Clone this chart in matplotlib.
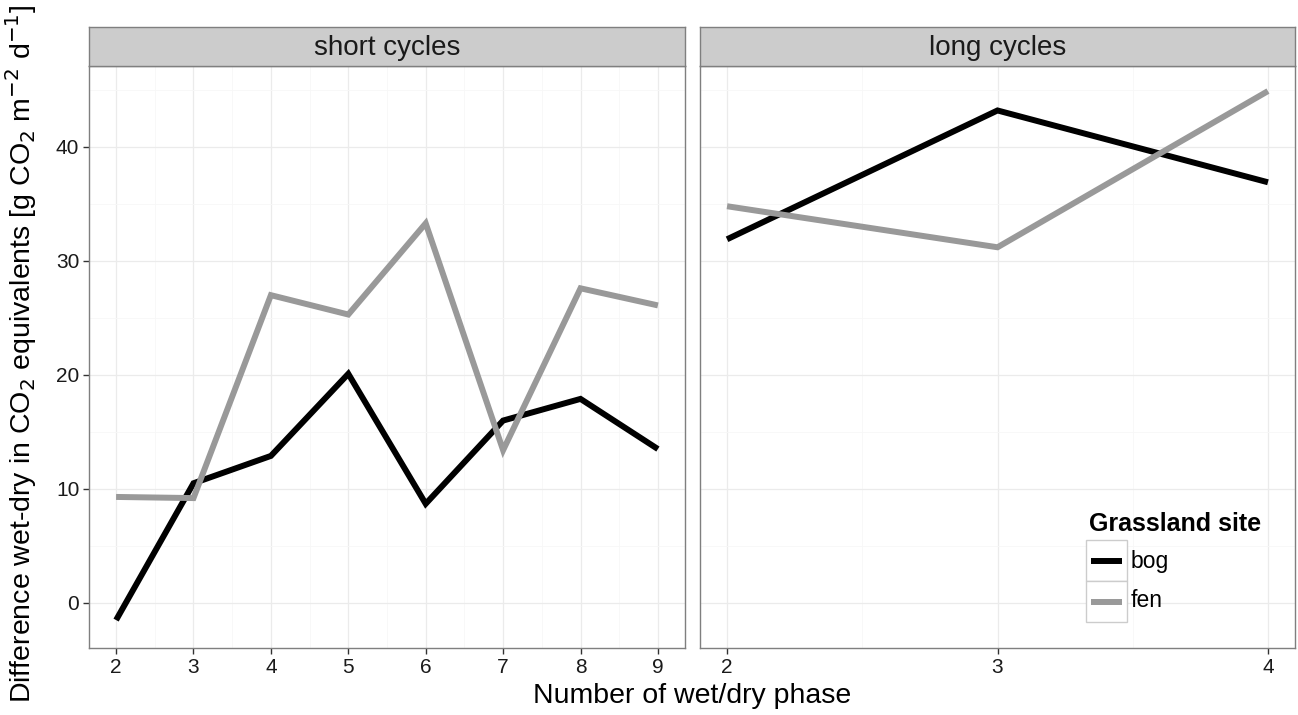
import matplotlib
matplotlib.use("Agg")
import matplotlib.pyplot as plt
from matplotlib.patches import Rectangle
from matplotlib.lines import Line2D

plt.rcParams['font.family'] = ['Liberation Sans', 'DejaVu Sans']

# Data
panels = ["short cycles", "long cycles"]
short_x = [2, 3, 4, 5, 6, 7, 8, 9]
short_bog = [-1.5, 10.5, 12.9, 20.1, 8.7, 16.0, 17.9, 13.5]
short_fen = [9.3, 9.2, 27.0, 25.3, 33.3, 13.4, 27.6, 26.1]
long_x = [2, 3, 4]
long_bog = [31.9, 43.2, 36.9]
long_fen = [34.8, 31.2, 44.9]
sites = ["bog", "fen"]
site_colors = {"bog": "#000000", "fen": "#999999"}
y_ticks = [0, 10, 20, 30, 40]

W, H = 1298, 715
fig = plt.figure(figsize=(W / 100, H / 100), dpi=100)

def px_axes(x0, x1, y0, y1):
    return fig.add_axes([x0 / W, 1 - y1 / H, (x1 - x0) / W, (y1 - y0) / H])

ylim = (-3.95, 47.1)
ax_s = px_axes(89, 685, 66, 648)
ax_l = px_axes(700, 1295, 66, 648)

series = [
    (ax_s, short_x, {"bog": short_bog, "fen": short_fen}, panels[0]),
    (ax_l, long_x, {"bog": long_bog, "fen": long_fen}, panels[1]),
]

for ax, xs, vals, title in series:
    span = xs[-1] - xs[0]
    ax.set_xlim(xs[0] - 0.05 * span, xs[-1] + 0.05 * span)
    ax.set_ylim(*ylim)
    # grid: minor then major
    for xv in xs:
        ax.axvline(xv, color="#ebebeb", lw=0.9, zorder=0)
    for xv in [x + 0.5 for x in xs[:-1]]:
        ax.axvline(xv, color="#f7f7f7", lw=0.6, zorder=0)
    for yv in y_ticks:
        ax.axhline(yv, color="#ebebeb", lw=0.9, zorder=0)
    for yv in [-5, 5, 15, 25, 35, 45]:
        ax.axhline(yv, color="#f7f7f7", lw=0.6, zorder=0)
    for s in sites:
        ax.plot(xs, vals[s], color=site_colors[s], lw=4.3, solid_joinstyle="miter",
                solid_capstyle="butt", zorder=3)
    ax.set_xticks(xs)
    ax.set_yticks(y_ticks)
    for sp in ax.spines.values():
        sp.set_color("#7f7f7f")
        sp.set_linewidth(1.0)
    ax.tick_params(axis="both", length=4, width=1, color="#333333", labelsize=15,
                   labelcolor="#1a1a1a", pad=3)
    # strip header
    strip = fig.add_axes([ax.get_position().x0, 1 - 66 / H, ax.get_position().width, 39 / H])
    strip.set_xticks([]); strip.set_yticks([])
    strip.set_facecolor("#cccccc")
    for sp in strip.spines.values():
        sp.set_color("#7f7f7f")
        sp.set_linewidth(1.0)
    strip.text(0.5, 0.47, title, ha="center", va="center", fontsize=20, color="#1a1a1a",
               transform=strip.transAxes)

ax_l.set_yticklabels([])
ax_l.tick_params(axis="y", length=0)

fig.text((89 + 1295) / 2 / W, 1 - 696 / H, "Number of wet/dry phase", ha="center", va="center",
         fontsize=20.5)
fig.text(21 / W, 1 - 354 / H,
         r"Difference wet-dry in CO$_2$ equivalents [g CO$_2$ m$^{-2}$ d$^{-1}$]",
         rotation=90, ha="center", va="center", fontsize=20.5)

# legend drawn inside the long-cycles panel
lax = ax_l
tr = lax.transAxes
def ax_x(px):
    return (px - 700) / 595
def ax_y(py):
    return (648 - py) / 582

lax.text(ax_x(1089), ax_y(531), "Grassland site", fontsize=18, fontweight="bold",
         ha="left", va="baseline", transform=tr, zorder=6)
for i, s in enumerate(sites):
    top = 540 + i * 41
    bot = top + 41
    lax.add_patch(Rectangle((ax_x(1086), ax_y(bot)), ax_x(1127) - ax_x(1086), ax_y(top) - ax_y(bot),
                            transform=tr, facecolor="white", edgecolor="#cccccc", lw=1.0, zorder=5))
    yc = ax_y((top + bot) / 2)
    lax.add_line(Line2D([ax_x(1091), ax_x(1122)], [yc, yc], transform=tr, color=site_colors[s],
                        lw=4.3, solid_capstyle="butt", zorder=6))
    lax.text(ax_x(1131), ax_y(568 + i * 39), s, fontsize=16.5, ha="left", va="baseline",
             transform=tr, zorder=6)

fig.savefig("out.png", dpi=100)
